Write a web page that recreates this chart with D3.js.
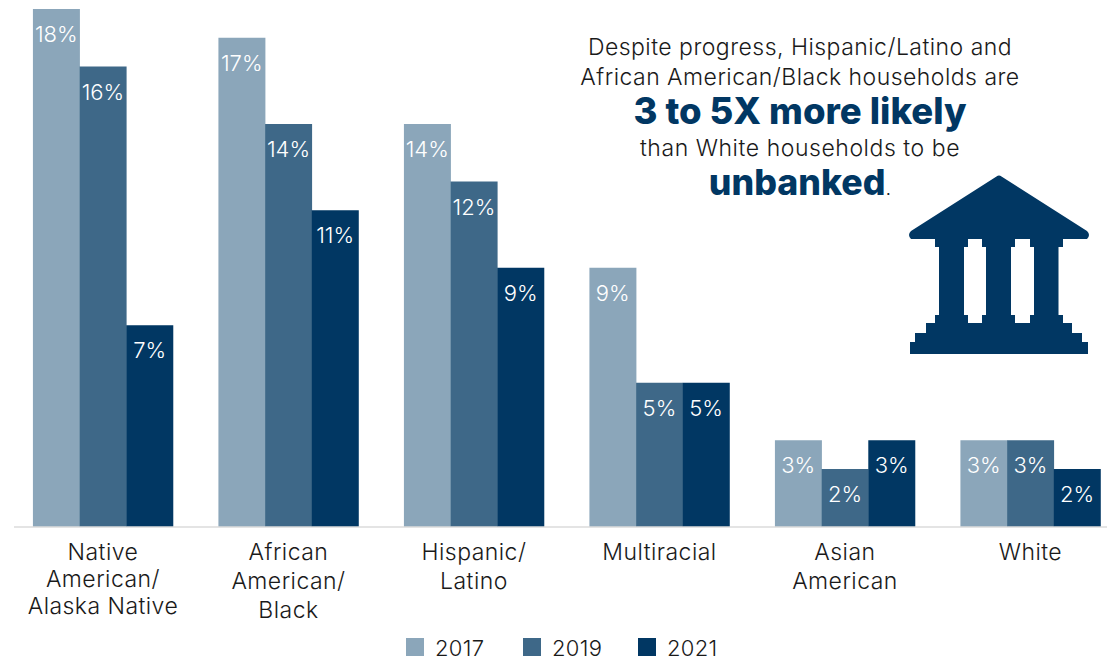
<!DOCTYPE html>
<html><head><meta charset="utf-8">
<script src="https://cdnjs.cloudflare.com/ajax/libs/d3/7.8.5/d3.min.js"></script>
<style>html,body{margin:0;padding:0;background:#fff}svg{display:block}text{font-family:Inter,sans-serif}</style>
</head><body><svg id="c" width="1107" height="662"></svg>
<script>
const categories = ["Native American/ Alaska Native","African American/ Black","Hispanic/ Latino","Multiracial","Asian American","White"];
const categoryLines = [["Native","American/","Alaska Native"],["African","American/","Black"],["Hispanic/","Latino"],["Multiracial"],["Asian","American"],["White"]];
const years = ["2017","2019","2021"];
const values2017 = [18,17,14,9,3,3];
const values2019 = [16,14,12,5,2,3];
const values2021 = [7,11,9,5,3,2];
const colors = ["#8ba6ba","#3e6888","#013763"];
const series = [values2017,values2019,values2021];
const calloutLines = [
 {t:"Despite progress, Hispanic/Latino and",y:55,s:23,w:300,c:"#1a1a1a",ls:0.47},
 {t:"African American/Black households are",y:85,s:23,w:300,c:"#1a1a1a",ls:0.47},
 {t:"3 to 5X more likely",y:124,s:36.5,w:800,c:"#013763",ls:0},
 {t:"than White households to be",y:156,s:23,w:300,c:"#1a1a1a",ls:0.55},
 {t:"unbanked",y:195,s:35.7,w:800,c:"#013763",ls:0,tail:"."}
];
const svg = d3.select("#c");
const x0 = d3.scaleBand().domain(categories).range([10.2,1123.2]).paddingInner(0.245).paddingOuter(0.1225);
const x1 = d3.scaleBand().domain(years).range([0,x0.bandwidth()]);
const y = d3.scaleLinear().domain([0,18]).range([526.5,9]);

const g = svg.selectAll("g.grp").data(categories).join("g").attr("class","grp").attr("transform",d=>`translate(${x0(d)},0)`);
years.forEach((yr,si)=>{
  g.append("rect").attr("x",x1(yr)).attr("width",x1.bandwidth()+.3)
   .attr("y",(d,i)=>y(series[si][i])).attr("height",(d,i)=>y(0)-y(series[si][i])).attr("fill",colors[si]);
  g.append("text").attr("x",x1(yr)+x1.bandwidth()/2).attr("y",(d,i)=>y(series[si][i])+33)
   .attr("text-anchor","middle").attr("fill","#fff").attr("font-size",22).attr("font-weight",300)
   .text((d,i)=>series[si][i]+"%");
});
svg.append("line").attr("x1",14).attr("x2",1107).attr("y1",527).attr("y2",527).attr("stroke","#c9c9c9").attr("stroke-width",1.2);

categories.forEach((c,i)=>{
  const cx = x0(c)+x0.bandwidth()/2, lh = i===0?27:29;
  categoryLines[i].forEach((l,j)=>{
    svg.append("text").attr("x",cx).attr("y",560+j*lh).attr("text-anchor","middle").attr("fill","#1a1a1a").attr("font-size",23).attr("font-weight",300).attr("letter-spacing",0.45).text(l);
  });
});
const legendX = d3.scaleOrdinal().domain(years).range([406,523,638]);
years.forEach((yr,i)=>{
  svg.append("rect").attr("x",legendX(yr)).attr("y",638).attr("width",18).attr("height",18).attr("fill",colors[i]);
  svg.append("text").attr("x",legendX(yr)+29).attr("y",656).attr("fill","#1a1a1a").attr("font-size",22).attr("font-weight",300).attr("letter-spacing",0.3).text(yr);
});
calloutLines.forEach(l=>{
  const t = svg.append("text").attr("x",800).attr("y",l.y).attr("text-anchor","middle").attr("fill",l.c).attr("font-size",l.s).attr("font-weight",l.w).attr("letter-spacing",l.ls).text(l.t);
  if(l.tail) t.append("tspan").attr("fill","#1a1a1a").attr("font-size",20).attr("font-weight",300).text(l.tail);
});
// bank icon
svg.append("path").attr("fill","#013763").attr("fill-rule","evenodd").attr("d",
 "M996.5 176.5Q999 174.5 1001.5 176.5L1087 231Q1091 235 1087 239L1063 239L1063 247L1058.5 247L1058.5 315L1063 315L1063 323L1072 323L1072 333L1082 333L1082 342L1088 342L1088 354L910 354L910 342L915 342L915 333L926 333L926 323L935 323L935 315L939 315L939 247L935 247L935 239L911 239Q907 235 911 231Z"+
 "M964 247L968 247L968 239L982 239L982 247L986 247L986 315L982 315L982 323L968 323L968 315L964 315Z"+
 "M1011 247L1015 247L1015 239L1030 239L1030 247L1034 247L1034 315L1030 315L1030 323L1015 323L1015 315L1011 315Z");
</script></body></html>
